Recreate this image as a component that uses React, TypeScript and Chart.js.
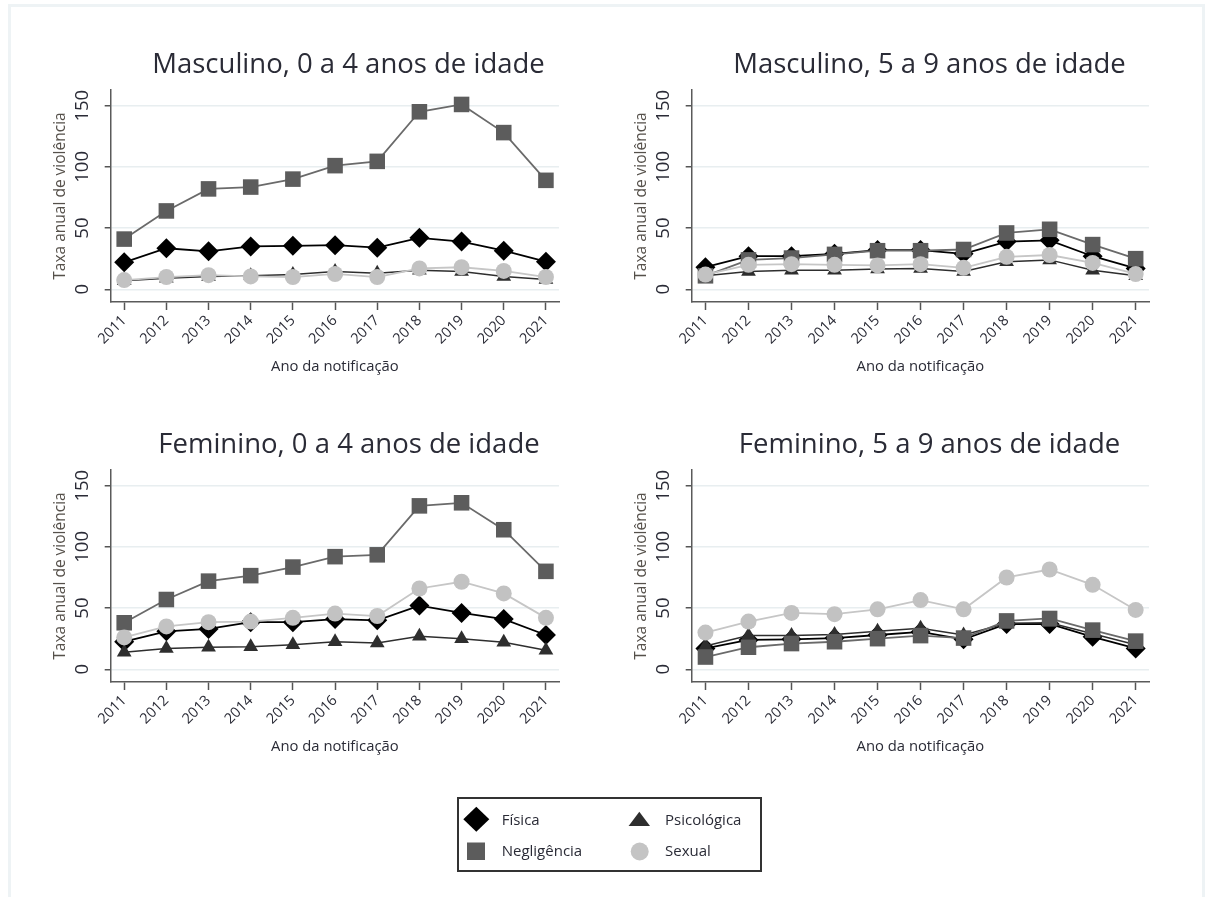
import React, { useEffect, useRef } from "react";
import { Chart, registerables } from "chart.js";

Chart.register(...registerables);

// ---------------- DATA ----------------
const years = [2011, 2012, 2013, 2014, 2015, 2016, 2017, 2018, 2019, 2020, 2021];
const yTickValues = [0, 50, 100, 150];
const seriesNames = ["Física", "Psicológica", "Negligência", "Sexual"];
const panelTitles = [
  "Masculino, 0 a 4 anos de idade",
  "Masculino, 5 a 9 anos de idade",
  "Feminino, 0 a 4 anos de idade",
  "Feminino, 5 a 9 anos de idade",
];
const xAxisTitle = "Ano da notificação";
const yAxisTitle = "Taxa anual de violência";

// Masculino, 0 a 4
const fisicaM04 = [22, 33.5, 31, 35, 35.5, 36, 34, 42, 39, 31.5, 22.5];
const psicoM04 = [7, 9, 10.5, 11, 12, 14.5, 13, 15.5, 14.5, 10.5, 8];
const negligM04 = [41, 64, 82, 83.5, 90, 101, 104.5, 145, 151, 128, 89];
const sexualM04 = [7.5, 10, 11.5, 10.5, 10, 12.5, 10, 17, 18, 15, 10];

// Masculino, 5 a 9
const fisicaM59 = [18, 27, 27, 29, 32, 32, 29, 39, 40, 27, 17];
const psicoM59 = [11, 14.5, 15.5, 15.5, 16.5, 17, 14.5, 22.5, 24, 15.5, 11];
const negligM59 = [11, 24, 25.5, 28.5, 31.5, 31.5, 32.5, 46, 49, 36.5, 25];
const sexualM59 = [12, 20, 20.5, 20, 19.5, 20.5, 17.5, 26.5, 28, 21.5, 12.5];

// Feminino, 0 a 4
const fisicaF04 = [22.5, 31, 33, 38.5, 38.5, 41, 40, 52, 46, 41, 28];
const psicoF04 = [14, 17, 18, 18.5, 20, 22.5, 21.5, 27, 25, 22, 15.5];
const negligF04 = [38, 57, 72, 76.5, 83.5, 92, 93.5, 133.5, 136, 114, 80];
const sexualF04 = [26, 35, 38.5, 39, 42, 45.5, 43.5, 66, 71.5, 62, 42];

// Feminino, 5 a 9
const fisicaF59 = [17, 24, 24.5, 25.5, 28, 30.5, 24.5, 37, 37, 26.5, 17];
const psicoF59 = [19, 27.5, 27.5, 28.5, 31, 33.5, 28, 37.5, 38, 29, 20];
const negligF59 = [10, 18, 21, 22.5, 25, 27.5, 25.5, 39.5, 41.5, 32, 23];
const sexualF59 = [30, 39, 46, 45, 49, 56.5, 49, 75, 81.5, 69, 48.5];

// ---------------- STYLE / LAYOUT ----------------
const FONT = "'Open Sans', sans-serif";
const TEXT = "#2a2b36";

type PanelCfg = {
  title: string;
  series: number[][]; // fisica, psico, neglig, sexual
  left: number;
  top: number;
  width: number;
  titleCx: number;
};

const CANVAS_H = 340;

const panels: PanelCfg[] = [
  { title: panelTitles[0], series: [fisicaM04, psicoM04, negligM04, sexualM04], left: 40, top: 40, width: 530, titleCx: 348.5 },
  { title: panelTitles[1], series: [fisicaM59, psicoM59, negligM59, sexualM59], left: 621, top: 40, width: 539, titleCx: 929.5 },
  { title: panelTitles[2], series: [fisicaF04, psicoF04, negligF04, sexualF04], left: 40, top: 420, width: 530, titleCx: 349 },
  { title: panelTitles[3], series: [fisicaF59, psicoF59, negligF59, sexualF59], left: 621, top: 420, width: 539, titleCx: 929.5 },
];

const seriesStyles = [
  { line: "#000000", point: "#000000", style: "rectRot", radius: 10, width: 1.8, order: 4 },
  { line: "#2e2e2e", point: "#2e2e2e", style: "triangle", radius: 8.5, width: 1.5, order: 3 },
  { line: "#6a6a6a", point: "#5c5c5c", style: "rect", radius: 11, width: 1.8, order: 2 },
  { line: "#c6c6c6", point: "#c2c2c2", style: "circle", radius: 8, width: 1.8, order: 1 },
];

const titlePlugin = {
  id: "panelTitle",
  afterDraw(chart: any, _args: any, opts: any) {
    const ctx = chart.ctx;
    ctx.save();
    ctx.font = `27.5px ${FONT}`;
    ctx.fillStyle = TEXT;
    ctx.textAlign = "center";
    ctx.textBaseline = "alphabetic";
    ctx.fillText(opts.text, opts.x, opts.y);
    ctx.restore();
  },
};

function Panel({ cfg }: { cfg: PanelCfg }) {
  const ref = useRef<HTMLCanvasElement | null>(null);
  useEffect(() => {
    if (!ref.current) return;
    const datasets = cfg.series.map((arr, i) => {
      const s = seriesStyles[i];
      return {
        label: seriesNames[i],
        data: years.map((x, k) => ({ x, y: arr[k] })),
        borderColor: s.line,
        backgroundColor: s.point,
        borderWidth: s.width,
        pointStyle: s.style as any,
        pointRadius: s.radius,
        pointBackgroundColor: s.point,
        pointBorderColor: s.point,
        pointBorderWidth: 0,
        tension: 0,
        order: s.order,
        clip: false as any,
      };
    });
    const chart = new Chart(ref.current, {
      type: "line",
      data: { datasets },
      plugins: [titlePlugin as any],
      options: {
        responsive: false,
        animation: false,
        devicePixelRatio: 1,
        layout: { padding: { top: 50, left: 10, right: 10, bottom: 3 } },
        plugins: {
          legend: { display: false },
          tooltip: { enabled: false },
          panelTitle: { text: cfg.title, x: cfg.titleCx - cfg.left, y: 33.3 },
        } as any,
        scales: {
          x: {
            type: "linear",
            min: 2010.68,
            max: 2021.31,
            afterBuildTicks: (ax: any) => {
              ax.ticks = years.map((v) => ({ value: v }));
            },
            afterFit: (ax: any) => {
              ax.height = 75;
            },
            ticks: {
              autoSkip: false,
              minRotation: 45,
              maxRotation: 45,
              padding: 2,
              color: TEXT,
              font: { family: FONT, size: 14.5 },
              callback: (v: any) => String(v),
            },
            grid: {
              display: true,
              drawOnChartArea: false,
              drawTicks: true,
              tickLength: 8,
              tickColor: "#555555",
              tickWidth: 1.5,
            },
            border: { display: true, color: "#5a5a5a", width: 1.5 },
            title: {
              display: true,
              text: xAxisTitle,
              color: TEXT,
              font: { family: FONT, size: 14.8 },
              padding: { top: 0, bottom: 1 },
            },
          },
          y: {
            type: "linear",
            min: -10.4,
            max: 162.8,
            afterBuildTicks: (ax: any) => {
              ax.ticks = yTickValues.map((v) => ({ value: v }));
            },
            afterFit: (ax: any) => {
              ax.width = 60.7;
            },
            ticks: {
              autoSkip: false,
              minRotation: 90,
              maxRotation: 90,
              crossAlign: "center",
              padding: 6.3,
              color: TEXT,
              font: { family: FONT, size: 18.5 },
              callback: (v: any) => String(v),
            },
            grid: {
              color: "#e8eef0",
              lineWidth: 1.5,
              drawTicks: true,
              tickLength: 6,
              tickColor: "#555555",
              tickWidth: 1.5,
            },
            border: { display: true, color: "#5a5a5a", width: 1.5 },
            title: {
              display: true,
              text: yAxisTitle,
              color: "#55504a",
              font: { family: FONT, size: 15.5 },
              padding: { top: 1.7, bottom: 0 },
            },
          },
        },
      } as any,
    });
    return () => chart.destroy();
  }, [cfg]);
  return (
    <canvas
      ref={ref}
      width={cfg.width}
      height={CANVAS_H}
      style={{ position: "absolute", left: cfg.left, top: cfg.top, width: cfg.width, height: CANVAS_H }}
    />
  );
}

function Legend() {
  const textStyle: React.CSSProperties = {
    position: "absolute",
    fontFamily: FONT,
    fontSize: 15,
    color: TEXT,
    lineHeight: "18px",
    whiteSpace: "nowrap",
  };
  return (
    <>
      <div
        style={{
          position: "absolute",
          left: 457,
          top: 797,
          width: 305,
          height: 75,
          border: "2px solid #333",
          boxSizing: "border-box",
          background: "#fff",
        }}
      />
      <svg style={{ position: "absolute", left: 0, top: 0 }} width={1206} height={897}>
        <polygon points="476.3,806.7 489.3,819.2 476.3,831.7 463.3,819.2" fill="#000" />
        <polygon points="639.3,811.7 650,826 628.6,826" fill="#2e2e2e" />
        <rect x={467} y={842.5} width={18} height={17.5} fill="#5c5c5c" />
        <circle cx={639.7} cy={851.5} r={9} fill="#c4c4c4" />
      </svg>
      <div style={{ ...textStyle, left: 501.7, top: 810 }}>{seriesNames[0]}</div>
      <div style={{ ...textStyle, left: 665, top: 810 }}>{seriesNames[1]}</div>
      <div style={{ ...textStyle, left: 501.7, top: 841 }}>{seriesNames[2]}</div>
      <div style={{ ...textStyle, left: 665, top: 841 }}>{seriesNames[3]}</div>
    </>
  );
}

export default function App() {
  return (
    <div style={{ position: "fixed", left: 0, top: 0, width: 1206, height: 897, overflow: "hidden", background: "#fff" }}>
      <div
        style={{
          position: "absolute",
          left: 8,
          top: 4,
          width: 1197,
          height: 900,
          border: "3px solid #eef3f5",
          boxSizing: "border-box",
        }}
      />
      {panels.map((p, i) => (
        <Panel key={i} cfg={p} />
      ))}
      <Legend />
    </div>
  );
}
